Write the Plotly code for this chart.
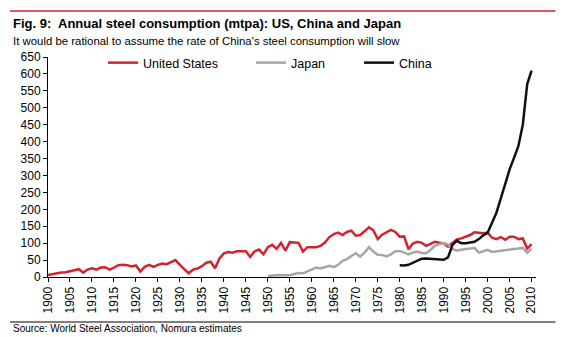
import plotly.graph_objects as go

years_us = list(range(1900, 2011))
us = [6, 9, 12, 13, 14, 16, 20, 23, 13, 22,
      26, 22, 28, 29, 22, 28, 35, 36, 35, 31,
      34, 16, 30, 36, 30, 36, 40, 38, 44, 50,
      36, 24, 11, 22, 25, 32, 42, 45, 26, 55,
      70, 74, 72, 76, 77, 76, 59, 76, 81, 67,
      88, 95, 83, 101, 78, 103, 102, 101, 75, 88,
      88, 88, 92, 102, 118, 127, 131, 124, 133, 137,
      122, 124, 135, 147, 138, 112, 125, 132, 139, 133,
      119, 120, 82, 99, 104, 101, 92, 98, 104, 101,
      100, 90, 100, 111, 114, 118, 124, 132, 130, 129,
      131, 116, 112, 118, 110, 119, 119, 112, 114, 84, 97]

years_jp = list(range(1950, 2011))
japan = [3, 5, 5, 6, 5, 5, 9, 12, 11, 17,
         22, 28, 25, 28, 33, 29, 36, 48, 53, 62,
         70, 60, 72, 88, 75, 66, 65, 61, 67, 76,
         77, 72, 67, 72, 75, 71, 70, 80, 92, 97,
         100, 96, 83, 78, 81, 83, 84, 86, 72, 76,
         80, 74, 76, 79, 80, 82, 83, 84, 86, 72, 84]

years_cn = list(range(1980, 2011))
china = [35, 34, 36, 42, 48, 54, 55, 54, 53, 52,
         51, 58, 95, 107, 100, 100, 101, 104, 112, 123,
         131, 160, 190, 232, 275, 318, 352, 387, 450, 570, 610]

x_ticks = list(range(1900, 2011, 5))
y_ticks = list(range(0, 651, 50))

FONT = "Arial, Liberation Sans, sans-serif"

fig = go.Figure()
fig.add_trace(go.Scatter(x=years_us, y=us, mode="lines", name="United States",
                         legend="legend",
                         line=dict(color="#D2232E", width=2.5)))
fig.add_trace(go.Scatter(x=years_jp, y=japan, mode="lines", name="Japan",
                         legend="legend2",
                         line=dict(color="#A6A6A6", width=2.5)))
fig.add_trace(go.Scatter(x=years_cn, y=china, mode="lines", name="China",
                         legend="legend3",
                         line=dict(color="#111111", width=2.5)))

leg_y = 1 - (63 - 57) / 220
def leg(xpx):
    return dict(orientation="h", x=(xpx - 5 - 48) / 488, y=leg_y,
                xanchor="left", yanchor="middle",
                font=dict(size=12.5), bgcolor="rgba(0,0,0,0)")

fig.update_layout(
    width=564, height=337,
    margin=dict(l=48, r=28, t=57, b=60),
    paper_bgcolor="white", plot_bgcolor="white",
    font=dict(family=FONT, size=12, color="#000"),
    showlegend=True,
    legend=leg(108), legend2=leg(256), legend3=leg(364),
    xaxis=dict(range=[1900, 2011], tickmode="array", tickvals=x_ticks,
               ticktext=[str(v) for v in x_ticks], tickangle=-90,
               showgrid=False, zeroline=False, showline=True, linecolor="#000",
               linewidth=1, ticks="outside", ticklen=4, tickcolor="#000",
               tickfont=dict(size=12)),
    yaxis=dict(range=[0, 650], tickmode="array", tickvals=y_ticks,
               showgrid=False, zeroline=False, showline=True, linecolor="#000",
               linewidth=1, ticks="outside", ticklen=4, tickcolor="#000",
               tickfont=dict(size=12)),
    shapes=[
        dict(type="line", xref="paper", yref="paper", x0=-0.078, x1=1.04,
             y0=1 + (57 - 11) / 220, y1=1 + (57 - 11) / 220,
             line=dict(color="#D2232E", width=1.5)),
        dict(type="line", xref="paper", yref="paper", x0=-0.078, x1=1.04,
             y0=-(322 - 277) / 220, y1=-(322 - 277) / 220,
             line=dict(color="#000", width=1)),
    ],
    annotations=[
        dict(text="<b>Fig. 9:  Annual steel consumption (mtpa): US, China and Japan</b>",
             xref="paper", yref="paper", x=-(48 - 11) / 488, y=1 + (57 - 23) / 220,
             xanchor="left", yanchor="middle", showarrow=False,
             font=dict(size=13, family=FONT)),
        dict(text="It would be rational to assume the rate of China's steel consumption will slow",
             xref="paper", yref="paper", x=-(48 - 11) / 488, y=1 + (57 - 41) / 220,
             xanchor="left", yanchor="middle", showarrow=False,
             font=dict(size=11.4, family=FONT)),
        dict(text="Source: World Steel Association, Nomura estimates",
             xref="paper", yref="paper", x=-(48 - 11) / 488, y=-(328 - 277) / 220,
             xanchor="left", yanchor="middle", showarrow=False,
             font=dict(size=10, family=FONT)),
    ],
)

fig.write_html("out.html")
